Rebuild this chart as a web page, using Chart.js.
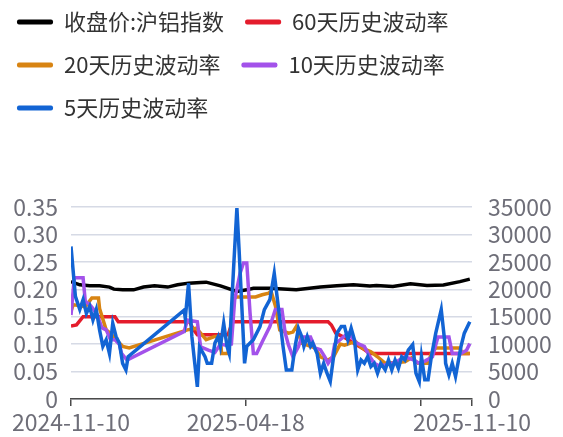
<!DOCTYPE html>
<html>
<head>
<meta charset="utf-8">
<script src="https://cdn.jsdelivr.net/npm/chart.js@4/dist/chart.umd.min.js"></script>
<style>
  html, body { margin: 0; padding: 0; background: #fff; }
  #wrap { width: 563px; height: 437px; }
</style>
</head>
<body>
<div id="wrap"><canvas id="c"></canvas></div>
<script>
// x values are day offsets from 2024-11-10
const tickDays = [0, 159, 318, 365];
const tickLabels = ['2024-11-10', '2025-04-18', '', '2025-11-10'];
const leftTicks = ['0', '0.05', '0.10', '0.15', '0.20', '0.25', '0.30', '0.35'];
const rightTicks = ['0', '5000', '10000', '15000', '20000', '25000', '30000', '35000'];

const seriesNames = ['收盘价:沪铝指数', '60天历史波动率', '20天历史波动率', '10天历史波动率', '5天历史波动率'];

const priceDays = [0, 8, 17, 26, 35, 39, 47, 57, 66, 76, 88, 97, 107, 118, 123, 136, 151, 160, 166, 181, 205, 227, 242, 257, 272, 278, 293, 309, 324, 339, 354, 363];
const price = [21400, 20820, 20630, 20630, 20400, 20030, 19900, 19900, 20400, 20630, 20400, 20820, 21120, 21240, 21300, 20630, 19600, 19900, 20200, 20200, 19900, 20400, 20630, 20820, 20600, 20700, 20500, 21000, 20700, 20800, 21400, 21860];

const vol60Days = [0, 5, 11, 40, 43, 108, 111, 115, 143, 147, 234, 237, 241, 249, 259, 267, 272, 363];
const vol60 = [0.133, 0.135, 0.15, 0.15, 0.141, 0.141, 0.128, 0.117, 0.117, 0.141, 0.141, 0.135, 0.12, 0.112, 0.10, 0.09, 0.083, 0.083];

const vol20Days = [0, 2, 13, 19, 25, 26, 32, 36, 41, 47, 53, 106, 114, 118, 123, 131, 136, 137, 143, 148, 150, 168, 174, 180, 182, 186, 190, 198, 202, 205, 210, 218, 222, 227, 234, 239, 245, 249, 259, 265, 273, 279, 286, 304, 310, 316, 325, 328, 332, 354, 356, 363];
const vol20 = [0.16, 0.172, 0.168, 0.184, 0.184, 0.165, 0.126, 0.12, 0.108, 0.096, 0.093, 0.126, 0.129, 0.12, 0.108, 0.114, 0.114, 0.083, 0.083, 0.181, 0.186, 0.186, 0.19, 0.193, 0.197, 0.17, 0.126, 0.12, 0.122, 0.132, 0.102, 0.096, 0.093, 0.077, 0.071, 0.077, 0.10, 0.098, 0.105, 0.093, 0.086, 0.077, 0.065, 0.068, 0.075, 0.065, 0.065, 0.083, 0.093, 0.093, 0.083, 0.083];

const vol10Days = [0, 3, 11, 13, 17, 20, 24, 28, 32, 36, 40, 44, 46, 51, 103, 106, 115, 118, 125, 131, 136, 141, 146, 149, 154, 157, 160, 163, 166, 169, 175, 181, 186, 192, 195, 198, 202, 207, 210, 218, 222, 227, 231, 234, 238, 240, 245, 252, 260, 267, 272, 276, 281, 292, 298, 304, 311, 317, 323, 329, 334, 344, 347, 355, 360, 363];
const vol10 = [0.153, 0.221, 0.221, 0.178, 0.172, 0.165, 0.153, 0.13, 0.126, 0.108, 0.108, 0.10, 0.083, 0.071, 0.123, 0.144, 0.141, 0.095, 0.089, 0.085, 0.10, 0.098, 0.10, 0.181, 0.23, 0.248, 0.248, 0.156, 0.083, 0.083, 0.108, 0.132, 0.163, 0.163, 0.12, 0.098, 0.077, 0.095, 0.113, 0.113, 0.093, 0.09, 0.077, 0.065, 0.077, 0.10, 0.108, 0.12, 0.102, 0.096, 0.077, 0.065, 0.06, 0.065, 0.07, 0.077, 0.072, 0.065, 0.07, 0.077, 0.113, 0.113, 0.083, 0.083, 0.089, 0.101];

const vol5Days = [0, 4, 8, 11, 14, 17, 20, 23, 26, 29, 32, 35, 38, 41, 44, 47, 50, 52, 103, 104, 107, 110, 112, 115, 117, 122, 124, 128, 131, 134, 136, 139, 142, 144, 148, 151, 153, 158, 160, 163, 166, 172, 176, 181, 185, 189, 193, 196, 201, 204, 207, 210, 212, 215, 218, 220, 224, 227, 230, 233, 236, 239, 242, 246, 249, 252, 255, 258, 261, 264, 267, 270, 273, 276, 279, 282, 286, 289, 292, 295, 298, 301, 304, 307, 311, 314, 317, 319, 322, 325, 328, 332, 337, 340, 341, 344, 347, 350, 355, 358, 363];
const vol5 = [0.278, 0.187, 0.163, 0.181, 0.156, 0.169, 0.144, 0.163, 0.126, 0.096, 0.108, 0.083, 0.138, 0.114, 0.102, 0.065, 0.053, 0.077, 0.162, 0.147, 0.211, 0.114, 0.077, 0.022, 0.095, 0.077, 0.065, 0.065, 0.102, 0.114, 0.096, 0.138, 0.096, 0.083, 0.239, 0.348, 0.272, 0.065, 0.096, 0.102, 0.108, 0.132, 0.163, 0.181, 0.229, 0.163, 0.096, 0.053, 0.053, 0.096, 0.129, 0.114, 0.096, 0.114, 0.096, 0.102, 0.083, 0.047, 0.065, 0.047, 0.032, 0.077, 0.12, 0.132, 0.132, 0.108, 0.129, 0.108, 0.053, 0.071, 0.065, 0.077, 0.059, 0.065, 0.047, 0.065, 0.053, 0.071, 0.053, 0.071, 0.056, 0.077, 0.071, 0.089, 0.099, 0.047, 0.032, 0.077, 0.035, 0.035, 0.077, 0.12, 0.163, 0.108, 0.065, 0.044, 0.065, 0.041, 0.096, 0.12, 0.141];

const colors = ['#000000', '#e41c2c', '#d88412', '#a352ea', '#1264d4'];
const tickColor = '#6e6e78';
const fontFamily = '"Noto Sans CJK SC", "Noto Sans", sans-serif';

function points(days, vals) {
  return days.map((d, i) => ({ x: d, y: vals[i] }));
}

function lineSet(idx, days, vals, axis, order) {
  return {
    label: seriesNames[idx],
    data: points(days, vals),
    borderColor: colors[idx],
    backgroundColor: colors[idx],
    borderWidth: 3.5,
    pointRadius: 0,
    tension: 0,
    fill: false,
    yAxisID: axis,
    order: order
  };
}

// push the plot area down below the legend, like the original
const legendSpacer = {
  id: 'legendSpacer',
  beforeInit(chart) {
    const origFit = chart.legend.fit;
    chart.legend.fit = function () {
      origFit.call(this);
      this.height = 217;
    };
  }
};

new Chart(document.getElementById('c'), {
  type: 'line',
  data: {
    datasets: [
      lineSet(0, priceDays, price, 'y1', 5),
      lineSet(1, vol60Days, vol60, 'y', 4),
      lineSet(2, vol20Days, vol20, 'y', 3),
      lineSet(3, vol10Days, vol10, 'y', 2),
      lineSet(4, vol5Days, vol5, 'y', 1)
    ]
  },
  options: {
    responsive: true,
    maintainAspectRatio: false,
    animation: false,
    layout: { padding: { top: -10, left: -4, right: 0, bottom: 0 } },
    scales: {
      x: {
        type: 'linear',
        min: 0,
        max: 365,
        afterBuildTicks: (scale) => { scale.ticks = tickDays.map(v => ({ value: v })); },
        afterFit: (scale) => { scale.height = 38; },
        grid: { drawOnChartArea: false, drawTicks: true, tickLength: 7, color: '#4a4a4a', lineWidth: 1.5 },
        border: { display: true, color: '#4a4a4a', width: 1.5 },
        ticks: {
          autoSkip: false,
          maxRotation: 0,
          padding: 2,
          color: tickColor,
          font: { family: fontFamily, size: 23 },
          callback: (v) => tickLabels[tickDays.indexOf(v)]
        }
      },
      y: {
        position: 'left',
        min: 0,
        max: 0.35,
        afterFit: (scale) => { scale.width = 75; },
        grid: { color: '#d6dae5', lineWidth: 1.5, drawTicks: false },
        border: { display: false },
        ticks: {
          stepSize: 0.05,
          autoSkip: false,
          padding: 13,
          color: tickColor,
          font: { family: fontFamily, size: 23 },
          callback: (v, i) => leftTicks[i]
        }
      },
      y1: {
        position: 'right',
        min: 0,
        max: 35000,
        afterFit: (scale) => { scale.width = 91; },
        grid: { drawOnChartArea: false, drawTicks: false },
        border: { display: false },
        ticks: {
          stepSize: 5000,
          autoSkip: false,
          padding: 16,
          color: tickColor,
          font: { family: fontFamily, size: 23 },
          callback: (v, i) => rightTicks[i]
        }
      }
    },
    plugins: {
      legend: {
        position: 'top',
        align: 'start',
        labels: {
          boxWidth: 36,
          boxHeight: 5,
          padding: 21,
          color: '#333333',
          font: { family: fontFamily, size: 22 },
          sort: (a, b) => a.datasetIndex - b.datasetIndex,
          generateLabels: (chart) => Chart.defaults.plugins.legend.labels.generateLabels(chart)
            .map(l => ({ ...l, lineWidth: 0, fillStyle: l.strokeStyle, borderRadius: 2 }))
        }
      },
      tooltip: { enabled: false }
    }
  },
  plugins: [legendSpacer]
});
</script>
</body>
</html>
